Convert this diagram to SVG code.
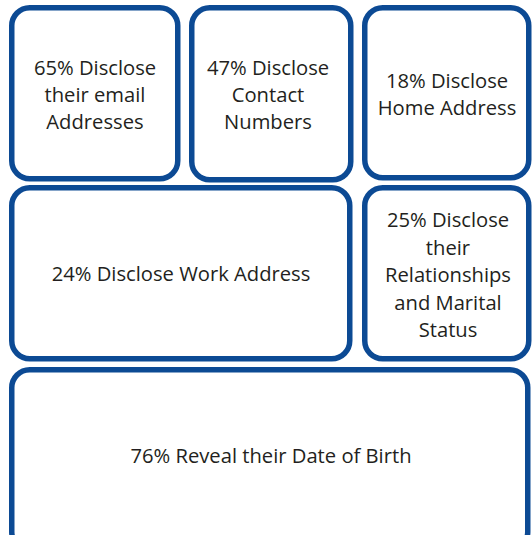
<svg xmlns="http://www.w3.org/2000/svg" width="532" height="535" viewBox="0 0 532 535">
<style>
.box{fill:#ffffff;stroke:#0c4a94;stroke-width:5.5}
.t{font-family:"Open Sans","Noto Sans","DejaVu Sans",sans-serif;font-size:20.2px;fill:#231f20;text-anchor:middle}
</style>
<rect width="532" height="535" fill="#ffffff"/>
<g id="connectors"></g>
<g id="email">
<rect class="box" x="11.75" y="7.75" width="166" height="171" rx="18"/>
<text class="t" x="95" y="75">65% Disclose</text>
<text class="t" x="95" y="102">their email</text>
<text class="t" x="95" y="129">Addresses</text>
</g>
<g id="contact">
<rect class="box" x="191.75" y="7.75" width="159" height="172" rx="18"/>
<text class="t" x="268" y="75">47% Disclose</text>
<text class="t" x="268" y="102">Contact</text>
<text class="t" x="268" y="129">Numbers</text>
</g>
<g id="home">
<rect class="box" x="364.75" y="7.75" width="164" height="170" rx="18"/>
<text class="t" x="447" y="88">18% Disclose</text>
<text class="t" x="447" y="115">Home Address</text>
</g>
<g id="work">
<rect class="box" x="11.75" y="187.75" width="338" height="171" rx="18"/>
<text class="t" x="181" y="281">24% Disclose Work Address</text>
</g>
<g id="relationship">
<rect class="box" x="364.75" y="187.75" width="164" height="171" rx="18"/>
<text class="t" x="448" y="227">25% Disclose</text>
<text class="t" x="448" y="254.5">their</text>
<text class="t" x="448" y="282">Relationships</text>
<text class="t" x="448" y="309.5">and Marital</text>
<text class="t" x="448" y="337">Status</text>
</g>
<g id="birth">
<rect class="box" x="11.75" y="369.75" width="516" height="180" rx="18"/>
<text class="t" x="271" y="463">76% Reveal their Date of Birth</text>
</g>
</svg>
